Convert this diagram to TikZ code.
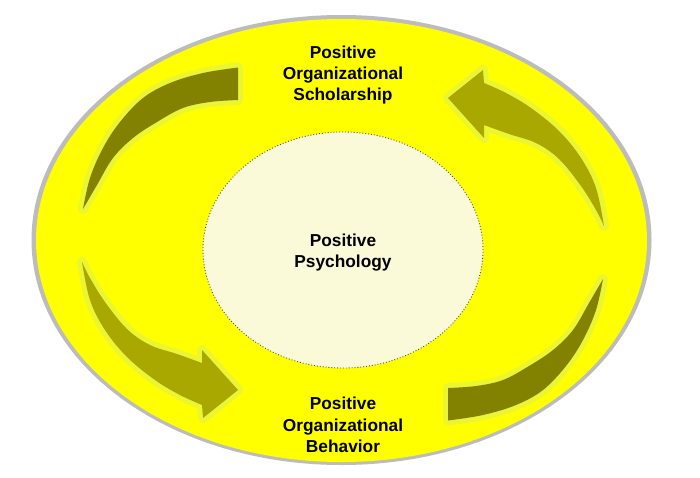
\documentclass[tikz,border=0pt]{standalone}
\usepackage{fontspec}
\usetikzlibrary{shapes.geometric}
\setmainfont{Liberation Sans}
\definecolor{ringyellow}{RGB}{255,255,0}
\definecolor{halogray}{RGB}{188,188,188}
\definecolor{corecream}{RGB}{250,250,216}
\definecolor{glowyellow}{RGB}{236,245,50}
\definecolor{oliveDark}{RGB}{130,130,0}
\definecolor{oliveLight}{RGB}{168,168,0}
\newcommand\pathTaper{(238,67.5) -- plot[smooth, tension=0.6] coordinates {(238,67.5) (203,73) (170,83) (143,98) (120,122) (103,148) (90,178) (83,209)}
  -- plot[smooth, tension=0.6] coordinates {(83,209) (97,185) (113,158) (133,138) (157,122) (183,108) (210,102) (238,100)} -- cycle}
\newcommand\pathHead{(82,262) -- plot[smooth, tension=0.6] coordinates {(82,262) (90,300) (105,330) (127,357) (155,380) (180,395) (202,405)}
  -- (203,418) -- (238,390) -- (202,350) --
  plot[smooth, tension=0.6] coordinates {(202,363) (177,354) (150,345) (127,329) (105,302) (90,278) (82,262)} -- cycle}
\tikzset{
  glowline/.style={draw=glowyellow, line width=10pt, line join=round},
  lbl/.style={font=\fontsize{17.3}{21.2}\selectfont\bfseries, align=center, inner sep=0pt, text=black},
  corestyle/.style={ellipse, draw=black!70, dotted, line width=0.9pt, fill=corecream, inner sep=0pt,
    minimum width=280pt, minimum height=236pt},
}
\begin{document}
\begin{tikzpicture}[x=1pt,y=-1pt]
\useasboundingbox (0,0) rectangle (700,477);
\fill[white] (0,0) rectangle (700,477);
% outer ring
\fill[halogray] (341.5,240) ellipse [x radius=310, y radius=225];
\fill[ringyellow] (341.5,240.5) ellipse [x radius=305.5, y radius=221.5];
% arrows: glow first
\foreach \rot in {0,180}{
  \begin{scope}[rotate around={\rot:(343,244)}]
    \path[glowline] \pathTaper;
    \path[glowline] \pathHead;
  \end{scope}
}
\foreach \rot in {0,180}{
  \begin{scope}[rotate around={\rot:(343,244)}]
    \fill[oliveDark] \pathTaper;
    \fill[oliveLight] \pathHead;
  \end{scope}
}
% inner ellipse
\node[corestyle] (core) at (343,250) {};
% labels
\node[lbl] (pos) at (343,75) {Positive\\Organizational\\Scholarship};
\node[lbl] (pob) at (343,425) {Positive\\Organizational\\Behavior};
\node[lbl] (pp) at (343,252.3) {Positive\\Psychology};
\end{tikzpicture}
\end{document}
